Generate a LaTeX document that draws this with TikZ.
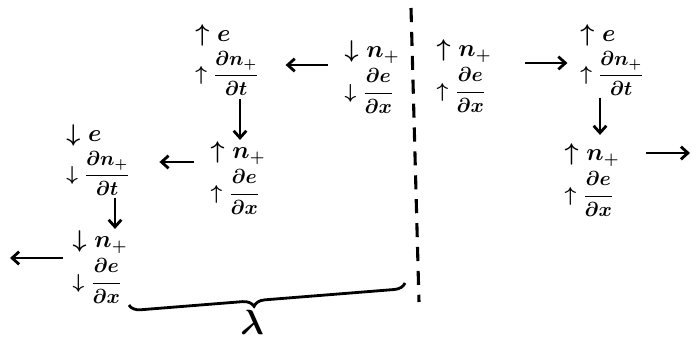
\documentclass[tikz,border=0pt]{standalone}
\usepackage{amsmath}
\usetikzlibrary{arrows.meta, calc, decorations.pathreplacing}
\newcommand{\topln}[1]{{\LARGE$#1$}}
\tikzset{
  grp/.style={align=left, inner sep=1pt, font=\Large\boldmath},
  arr/.style={-{Straight Barb[length=5pt, width=9pt]}, line width=2pt},
  divider/.style={line width=2.2pt, dash pattern=on 10pt off 7pt},
  brc/.style={line width=2pt, decorate,
    decoration={brace, mirror, amplitude=8pt, aspect=0.45}},
  lbl/.style={font=\Huge\boldmath},
}
\begin{document}
\begin{tikzpicture}[x=0.025cm, y=-0.025cm]
  \useasboundingbox (0,0) rectangle (692,341);

  % groups left of the dashed line
  \node (nA) [grp] at (372,77)  {\topln{\downarrow n_+}\\[3pt]$\downarrow\dfrac{\partial e}{\partial x}$};
  \node (nC) [grp] at (227,60)  {\topln{\uparrow e}\\[3pt]$\uparrow\dfrac{\partial n_+}{\partial t}$};
  \node (nD) [grp] at (238,178) {\topln{\uparrow n_+}\\[3pt]$\uparrow\dfrac{\partial e}{\partial x}$};
  \node (nE) [grp] at (98,160)  {\topln{\downarrow e}\\[3pt]$\downarrow\dfrac{\partial n_+}{\partial t}$};
  \node (nF) [grp] at (100,267) {\topln{\downarrow n_+}\\[3pt]$\downarrow\dfrac{\partial e}{\partial x}$};

  % groups right of the dashed line
  \node (nB) [grp] at (464,76)  {\topln{\uparrow n_+}\\[3pt]$\uparrow\dfrac{\partial e}{\partial x}$};
  \node (nG) [grp] at (612,60)  {\topln{\uparrow e}\\[3pt]$\uparrow\dfrac{\partial n_+}{\partial t}$};
  \node (nH) [grp] at (592,180) {\topln{\uparrow n_+}\\[3pt]$\uparrow\dfrac{\partial e}{\partial x}$};

  \coordinate (outL) at (10,258);
  \coordinate (outR) at (690,153);
  \coordinate (lamR) at (405,283);

  % dashed divider
  \draw[divider] (411,8) -- (419,302);

  \draw[arr, shorten <=11pt, shorten >=18pt] (nA.west |- 0,65)  -- (nC.east |- 0,65);
  \draw[arr, shorten <=1pt] (nC.south -| 240,0) -- (nD.north -| 240,0);
  \draw[arr, shorten <=11pt, shorten >=20pt] (nD.west |- 0,162) -- (nE.east |- 0,162);
  \draw[arr] (nE.south -| 115,0) -- (nF.north -| 115,0);
  \draw[arr, shorten <=6pt] (nF.west |- outL)  -- (outL);

  \draw[arr, shorten <=23pt, shorten >=8pt] (nB.east |- 0,63)  -- (nG.west |- 0,63);
  \draw[arr, shorten >=5pt] (nG.south -| 600,0) -- (nH.north -| 600,0);
  \draw[arr, shorten <=18pt] (nH.east |- outR)  -- (outR);

  % wavelength brace
  \draw[brc] (nF.south east) -- (lamR);
  \node (lam) [lbl] at (252,322) {$\lambda$};
\end{tikzpicture}
\end{document}
